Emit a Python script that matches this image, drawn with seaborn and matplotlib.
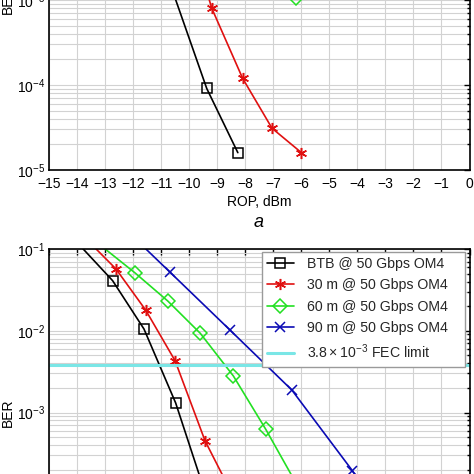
import numpy as np
import pandas as pd
import matplotlib
matplotlib.use("Agg")
import matplotlib.pyplot as plt
from matplotlib.ticker import MultipleLocator, LogLocator, NullFormatter
import seaborn as sns

# ---------------- data ----------------
# panel a (upper, partly visible)
a_btb_x = [-11.7, -10.57, -9.38, -8.27]
a_btb_y = [1e-2, 1.2e-3, 9.1e-5, 1.6e-5]
a_30m_x = [-10.2, -9.2, -8.1, -7.05, -6.0]
a_30m_y = [1e-2, 8.0e-4, 1.2e-4, 3.1e-5, 1.6e-5]
a_60m_x = [-7.3, -6.2]
a_60m_y = [8e-3, 1.05e-3]

# panel b (lower, partly visible)
b_btb_x = [-14.1, -12.74, -11.62, -10.49, -9.38, -8.27]
b_btb_y = [0.13, 4.1e-2, 1.05e-2, 1.31e-3, 9.1e-5, 1.6e-5]
b_30m_x = [-13.84, -12.62, -11.56, -10.51, -9.44, -8.4]
b_30m_y = [0.15, 5.7e-2, 1.79e-2, 4.3e-3, 4.5e-4, 9e-5]
b_60m_x = [-13.54, -11.94, -10.77, -9.61, -8.43, -7.27, -6.1]
b_60m_y = [0.14, 5.1e-2, 2.31e-2, 9.3e-3, 2.8e-3, 6.2e-4, 1.2e-4]
b_90m_x = [-12.86, -10.69, -8.55, -6.34, -4.18, -2.0]
b_90m_y = [0.27, 5.2e-2, 1.02e-2, 1.88e-3, 1.94e-4, 1.5e-5]

fec_limit = 3.8e-3
labels = ["BTB @ 50 Gbps OM4", "30 m @ 50 Gbps OM4", "60 m @ 50 Gbps OM4",
          "90 m @ 50 Gbps OM4", r"$3.8\times10^{-3}$ FEC limit"]
x_ticks = list(range(-15, 1))

# ---------------- style ----------------
sns.set_theme(style="white")
plt.rcParams["font.family"] = ["Liberation Sans", "DejaVu Sans"]
plt.rcParams["mathtext.fontset"] = "custom"
plt.rcParams["mathtext.rm"] = "Liberation Sans"
plt.rcParams["mathtext.it"] = "Liberation Sans:italic"
plt.rcParams["mathtext.default"] = "regular"

C_BLACK = "#000000"
C_RED = "#e01010"
C_GREEN = "#22e022"
C_BLUE = "#0a0ab4"
C_CYAN = "#7ae6e6"
C_GRID = "#d2d2d2"

ASTER = (6, 2, 0)

styles = {
    "btb": dict(color=C_BLACK, marker="s", markersize=6.5),
    "30m": dict(color=C_RED, marker=ASTER, markersize=8),
    "60m": dict(color=C_GREEN, marker="D", markersize=7.5),
    "90m": dict(color=C_BLUE, marker="x", markersize=7.5),
}

W = H = 474.0
fig = plt.figure(figsize=(4.74, 4.74), dpi=100)

left = 49.3 / W
width = (469.5 - 49.3) / W
# upper axes: bottom at 170 px from top, 85 px / decade, 4 decades
ax_a = fig.add_axes([left, (H - 170) / H, width, 340 / H])
# lower axes: top at 249 px from top, 81.7 px / decade, 4 decades
ax_b = fig.add_axes([left, (H - 249 - 327) / H, width, 327 / H])


def draw(ax, x, y, key, label=None):
    st = styles[key]
    sns.lineplot(x=x, y=y, ax=ax, color=st["color"], marker=st["marker"],
                 markersize=st["markersize"], markerfacecolor="none",
                 markeredgecolor=st["color"], markeredgewidth=1.1,
                 linewidth=1.2, sort=False, estimator=None, label=label,
                 legend=False)


for ax in (ax_a, ax_b):
    ax.set_yscale("log")
    ax.set_xlim(-15, 0)
    ax.set_ylim(1e-5, 1e-1)
    ax.xaxis.set_major_locator(MultipleLocator(1))
    ax.yaxis.set_major_locator(LogLocator(base=10, numticks=10))
    ax.yaxis.set_minor_locator(LogLocator(base=10, subs=np.arange(2, 10), numticks=10))
    ax.yaxis.set_minor_formatter(NullFormatter())
    ax.grid(True, which="major", color=C_GRID, linewidth=0.8)
    ax.grid(True, which="minor", axis="y", color=C_GRID, linewidth=0.8)
    ax.set_axisbelow(True)
    ax.tick_params(which="both", direction="in", top=True, right=True,
                   colors="black", labelsize=10, length=4, width=1.0)
    ax.tick_params(axis="x", which="major", pad=5)
    ax.tick_params(axis="y", which="major", pad=3)
    ax.tick_params(which="minor", length=2.5)
    for sp in ax.spines.values():
        sp.set_color("black")
        sp.set_linewidth(1.2)
        sp.set_visible(True)
    ax.set_ylabel("BER", fontsize=10, color="black")
    ax.yaxis.set_label_coords(-0.083, 0.5)

draw(ax_a, a_btb_x, a_btb_y, "btb")
draw(ax_a, a_30m_x, a_30m_y, "30m")
draw(ax_a, a_60m_x, a_60m_y, "60m")
ax_a.set_xticks(x_ticks)
ax_a.set_xlabel("ROP, dBm", fontsize=10, color="black", labelpad=3)

draw(ax_b, b_btb_x, b_btb_y, "btb", labels[0])
draw(ax_b, b_30m_x, b_30m_y, "30m", labels[1])
draw(ax_b, b_60m_x, b_60m_y, "60m", labels[2])
draw(ax_b, b_90m_x, b_90m_y, "90m", labels[3])
ax_b.axhline(fec_limit, color=C_CYAN, linewidth=2.2, label=labels[4])
ax_b.set_xticks(x_ticks)
ax_b.set_xlabel("")

# legend box spans x 262..465 px, y 251.7..365 px (figure pixels)
lx0 = (262 - 49.3) / 420.2
lx1 = (465 - 49.3) / 420.2
ly1 = 1 - (251.7 - 249) / 327
ly0 = 1 - (365 - 249) / 327
leg = ax_b.legend(loc="upper left", bbox_to_anchor=(lx0, ly0, lx1 - lx0, ly1 - ly0),
                  mode="expand", borderaxespad=0, fontsize=10.2, frameon=True,
                  fancybox=False, framealpha=1, edgecolor="#9a9a9a",
                  handlelength=1.85, handletextpad=0.96, labelspacing=0.52,
                  borderpad=0.38)
leg.get_frame().set_linewidth(1.0)

fig.text(259 / W, (H - 222) / H, "a", fontsize=13, style="italic",
         ha="center", va="center", color="black")

fig.savefig("out.png", dpi=100)
